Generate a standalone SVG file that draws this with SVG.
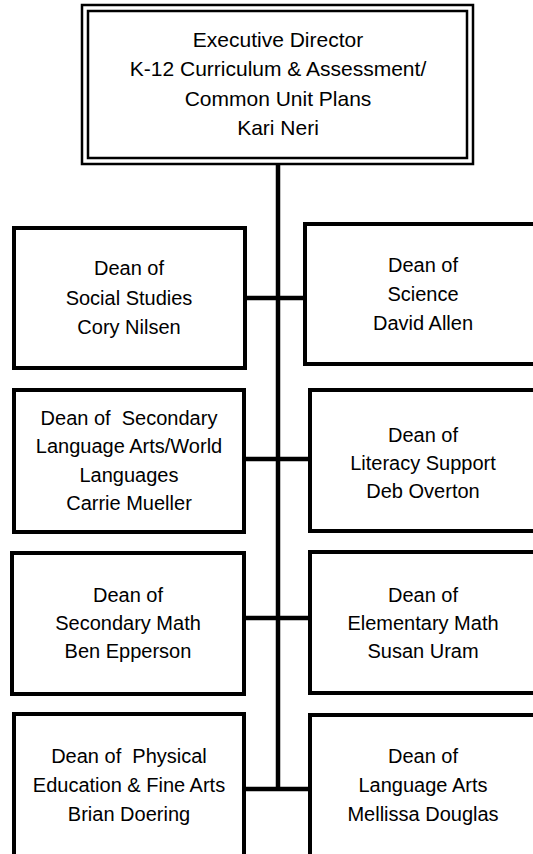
<svg xmlns="http://www.w3.org/2000/svg" width="533" height="854" viewBox="0 0 533 854">
<style>
.bg{fill:#ffffff}
.box{fill:#ffffff;stroke:#000000;stroke-width:4}
.dbl{fill:none;stroke:#000000;stroke-width:2.5}
.ln{fill:none;stroke:#000000;stroke-width:4.5}
text{font-family:"Liberation Sans",Arial,sans-serif;font-size:20px;fill:#000000;text-anchor:middle}
.big{font-size:21px}
</style>
<rect class="bg" x="0" y="0" width="533" height="854"/>
<g id="connectors">
<line class="ln" x1="278" y1="164" x2="278" y2="791"/>
<line class="ln" x1="245" y1="298" x2="305" y2="298"/>
<line class="ln" x1="244" y1="459" x2="310" y2="459"/>
<line class="ln" x1="244" y1="618" x2="310" y2="618"/>
<line class="ln" x1="244" y1="789" x2="310" y2="789"/>
</g>
<g id="executive-director">
<rect x="82" y="5" width="391" height="159" fill="#ffffff"/>
<rect class="dbl" x="82" y="5" width="391" height="159"/>
<rect class="dbl" x="88" y="11" width="379" height="147"/>
<text class="big" x="278" y="47">Executive Director</text>
<text class="big" x="278" y="76">K-12 Curriculum &amp; Assessment/</text>
<text class="big" x="278" y="106">Common Unit Plans</text>
<text class="big" x="278" y="135">Kari Neri</text>
</g>
<g id="social-studies">
<rect class="box" x="14" y="228" width="231" height="140"/>
<text x="129" y="275">Dean of</text>
<text x="129" y="305">Social Studies</text>
<text x="129" y="334">Cory Nilsen</text>
</g>
<g id="science">
<rect class="box" x="305" y="224" width="240" height="140"/>
<text x="423" y="272">Dean of</text>
<text x="423" y="301">Science</text>
<text x="423" y="330">David Allen</text>
</g>
<g id="secondary-language-arts">
<rect class="box" x="14" y="390" width="230" height="142"/>
<text x="129" y="425" xml:space="preserve">Dean of  Secondary</text>
<text x="129" y="453">Language Arts/World</text>
<text x="129" y="482">Languages</text>
<text x="129" y="510">Carrie Mueller</text>
</g>
<g id="literacy-support">
<rect class="box" x="310" y="390" width="240" height="141"/>
<text x="423" y="442">Dean of</text>
<text x="423" y="470">Literacy Support</text>
<text x="423" y="498">Deb Overton</text>
</g>
<g id="secondary-math">
<rect class="box" x="12" y="553" width="232" height="141"/>
<text x="128" y="602">Dean of</text>
<text x="128" y="630">Secondary Math</text>
<text x="128" y="658">Ben Epperson</text>
</g>
<g id="elementary-math">
<rect class="box" x="310" y="552" width="240" height="141"/>
<text x="423" y="602">Dean of</text>
<text x="423" y="630">Elementary Math</text>
<text x="423" y="658">Susan Uram</text>
</g>
<g id="pe-fine-arts">
<rect class="box" x="14" y="714" width="230" height="160"/>
<text x="129" y="763" xml:space="preserve">Dean of  Physical</text>
<text x="129" y="792">Education &amp; Fine Arts</text>
<text x="129" y="821">Brian Doering</text>
</g>
<g id="language-arts">
<rect class="box" x="310" y="715" width="240" height="160"/>
<text x="423" y="763">Dean of</text>
<text x="423" y="792">Language Arts</text>
<text x="423" y="821">Mellissa Douglas</text>
</g>
</svg>
